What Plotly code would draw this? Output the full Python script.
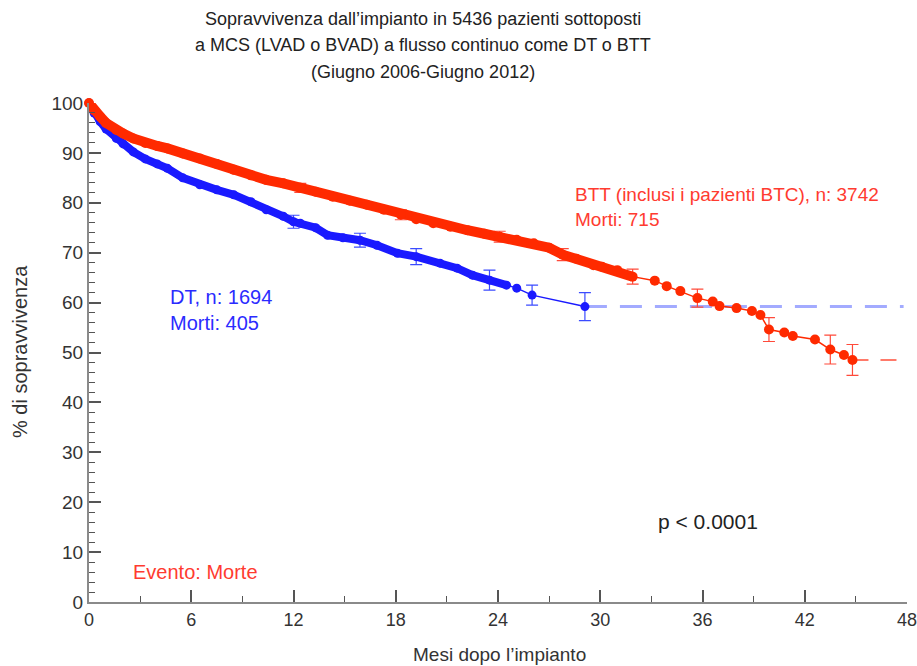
import plotly.graph_objects as go

# ---- data ----
btt_months = [0, 0.3, 0.65, 1.0, 1.6, 2.0, 2.6, 3.3, 4.0, 4.6, 5.5, 6.5, 7.5, 8.5, 9.5, 10.4,
              11.4, 12.4, 13.3, 14.3, 15.3, 16.3, 17.3, 18.3, 19.2, 20.2, 21.2, 22.2, 23.2,
              24.1, 25.1, 26.1, 27.0, 27.8, 28.6, 29.6, 30.1, 31.0, 31.9, 33.2, 33.9, 34.7,
              35.7, 36.6, 37.0, 38.0, 38.9, 39.4, 39.9, 40.8, 41.3, 42.6, 43.5, 44.3, 44.8]
btt_surv = [100, 98.5, 97.3, 96.0, 94.6, 93.9, 92.9, 92.0, 91.4, 90.9, 89.9, 88.9, 87.8, 86.6,
            85.5, 84.6, 83.9, 83.0, 82.2, 81.2, 80.4, 79.6, 78.6, 77.6, 76.7, 75.9, 75.2, 74.5,
            73.8, 73.2, 72.6, 71.9, 71.0, 69.6, 68.8, 67.5, 67.2, 66.5, 65.2, 64.4, 63.3, 62.3,
            60.9, 60.2, 59.3, 58.9, 58.3, 57.5, 54.6, 54.0, 53.3, 52.6, 50.6, 49.5, 48.5]
btt_err_months = [12.4, 18.3, 24.1, 27.8, 31.9, 35.7, 39.9, 43.5, 44.8]
btt_err_vals = [0.9, 1.0, 1.1, 1.2, 1.5, 1.8, 2.4, 2.9, 3.1]

dt_months = [0, 0.3, 0.65, 1.0, 1.6, 2.0, 2.6, 3.3, 4.0, 4.6, 5.5, 6.5, 7.5, 8.5, 9.5, 10.4,
             11.4, 12.0, 12.4, 13.3, 14.0, 14.9, 15.9, 16.9, 18.1, 19.2, 20.6, 21.6, 22.5,
             23.5, 24.5, 25.1, 26.0, 29.1]
dt_surv = [100, 98.0, 96.3, 94.8, 92.9, 91.8, 90.2, 88.8, 87.8, 86.9, 85.0, 83.6, 82.6, 81.6,
           80.2, 78.6, 77.3, 76.2, 75.9, 75.0, 73.5, 73.0, 72.5, 71.5, 69.9, 69.2, 67.9, 66.9,
           65.5, 64.5, 63.5, 62.9, 61.5, 59.2]
dt_err_months = [12.0, 15.9, 19.2, 23.5, 26.0, 29.1]
dt_err_vals = [1.3, 1.4, 1.6, 2.0, 2.0, 2.8]

x_ticks = [0, 6, 12, 18, 24, 30, 36, 42, 48]
y_ticks = [0, 10, 20, 30, 40, 50, 60, 70, 80, 90, 100]

title_lines = ["Sopravvivenza dall’impianto in 5436 pazienti sottoposti",
               "a MCS (LVAD o BVAD) a flusso continuo come DT o BTT",
               "(Giugno 2006-Giugno 2012)"]

RED = "#ff2a00"
BLUE = "#1a1aff"
FONT = "Liberation Sans, Arial, Helvetica, sans-serif"

# plot-area geometry in pixels (for placing free text)
L, R, T, B, W, H = 89, 10, 103, 64, 917, 666
PW, PH = W - L - R, H - T - B

def px_x(p):
    return (p - L) / PW

def px_y(p):
    return (H - B - p) / PH

def subset(xs, ys, limit):
    px = [x for x in xs if x <= limit]
    py = [y for x, y in zip(xs, ys) if x <= limit]
    return px, py

def err_points(xs, ys, exs):
    lookup = dict(zip(xs, ys))
    return exs, [lookup[e] for e in exs]

fig = go.Figure()

# dashed extensions
fig.add_trace(go.Scatter(x=[dt_months[-1], 47.8], y=[dt_surv[-1], dt_surv[-1]], mode="lines",
                         line=dict(color="#a3abff", width=3, dash="22px,13px"), hoverinfo="skip",
                         cliponaxis=False))
fig.add_trace(go.Scatter(x=[btt_months[-1], 48], y=[btt_surv[-1], btt_surv[-1]], mode="lines",
                         line=dict(color="#ff7a6a", width=1.8, dash="16px,12px"), hoverinfo="skip",
                         cliponaxis=False))

# error bars
ex, ey = err_points(dt_months, dt_surv, dt_err_months)
fig.add_trace(go.Scatter(x=ex, y=ey, mode="markers", marker=dict(size=1, color=BLUE),
                         error_y=dict(type="data", array=dt_err_vals, color="#3b4bff",
                                      thickness=1.2, width=6), hoverinfo="skip"))
ex, ey = err_points(btt_months, btt_surv, btt_err_months)
fig.add_trace(go.Scatter(x=ex, y=ey, mode="markers", marker=dict(size=1, color=RED),
                         error_y=dict(type="data", array=btt_err_vals, color="#ff4a3a",
                                      thickness=1.2, width=6), hoverinfo="skip"))

# DT (blue)
bx, by = subset(dt_months, dt_surv, 24.5)
fig.add_trace(go.Scatter(x=bx, y=by, mode="lines", line=dict(color=BLUE, width=8),
                         hoverinfo="skip", cliponaxis=False))
fig.add_trace(go.Scatter(x=dt_months, y=dt_surv, mode="lines+markers",
                         line=dict(color=BLUE, width=1.5), marker=dict(size=9, color=BLUE),
                         cliponaxis=False, name="DT"))

# BTT (red)
rx, ry = subset(btt_months, btt_surv, 31.9)
fig.add_trace(go.Scatter(x=rx, y=ry, mode="lines", line=dict(color=RED, width=10),
                         hoverinfo="skip", cliponaxis=False))
fig.add_trace(go.Scatter(x=btt_months, y=btt_surv, mode="lines+markers",
                         line=dict(color=RED, width=1.5), marker=dict(size=10, color=RED),
                         cliponaxis=False, name="BTT"))

annots = [
    dict(x=28.4, y=79.2, text="BTT (inclusi i pazienti BTC), n: 3742<br>Morti: 715",
         color="#ff3b30", size=19),
    dict(x=4.64, y=58.5, text="DT, n: 1694<br>Morti: 405", color="#2b2bff", size=20),
    dict(x=33.3, y=16.2, text="p < 0.0001", color="#222222", size=21),
    dict(x=2.45, y=6.0, text="Evento: Morte", color="#ff3b30", size=20),
]
for a in annots:
    fig.add_annotation(x=a["x"], y=a["y"], xref="x", yref="y", text=a["text"], showarrow=False,
                       xanchor="left", yanchor="middle", align="left",
                       font=dict(family=FONT, size=a["size"], color=a["color"]))

# title lines
for line, ypix in zip(title_lines, [19, 45, 72]):
    fig.add_annotation(x=px_x(423), y=px_y(ypix), xref="paper", yref="paper", text=line,
                       showarrow=False, xanchor="center", yanchor="middle",
                       font=dict(family=FONT, size=18, color="#222222"))

# axis titles
fig.add_annotation(x=px_x(500), y=px_y(654), xref="paper", yref="paper",
                   text="Mesi dopo l’impianto", showarrow=False, xanchor="center",
                   yanchor="middle", font=dict(family=FONT, size=19, color="#333333"))
fig.add_annotation(x=px_x(20), y=px_y(352), xref="paper", yref="paper",
                   text="% di sopravvivenza", showarrow=False, textangle=-90,
                   xanchor="center", yanchor="middle",
                   font=dict(family=FONT, size=20, color="#333333"))

fig.update_layout(
    width=W, height=H,
    margin=dict(l=L, r=R, t=T, b=B, autoexpand=False),
    paper_bgcolor="white", plot_bgcolor="white",
    showlegend=False,
    font=dict(family=FONT, size=17, color="#333333"),
    xaxis=dict(range=[0, 48], tickvals=x_ticks, ticktext=[str(v) for v in x_ticks],
               showline=True, linecolor="#8a8a8a", linewidth=2, showgrid=False, zeroline=False,
               ticks="inside", ticklen=12, tickwidth=1.5, tickcolor="#555555",
               ticklabeloverflow="allow", automargin=False,
               minor=dict(dtick=3, tick0=0, ticks="inside", ticklen=6, tickwidth=1.2,
                          tickcolor="#555555", showgrid=False),
               tickfont=dict(family=FONT, size=18, color="#333333")),
    yaxis=dict(range=[0, 100], tickvals=y_ticks, ticktext=[str(v) for v in y_ticks],
               showline=True, linecolor="#8a8a8a", linewidth=2, showgrid=False, zeroline=False,
               ticks="inside", ticklen=12, tickwidth=1.5, tickcolor="#555555",
               automargin=False,
               minor=dict(dtick=2, tick0=0, ticks="inside", ticklen=6, tickwidth=1.2,
                          tickcolor="#555555", showgrid=False),
               tickfont=dict(family=FONT, size=19, color="#333333")),
)

fig.write_html("out.html")
